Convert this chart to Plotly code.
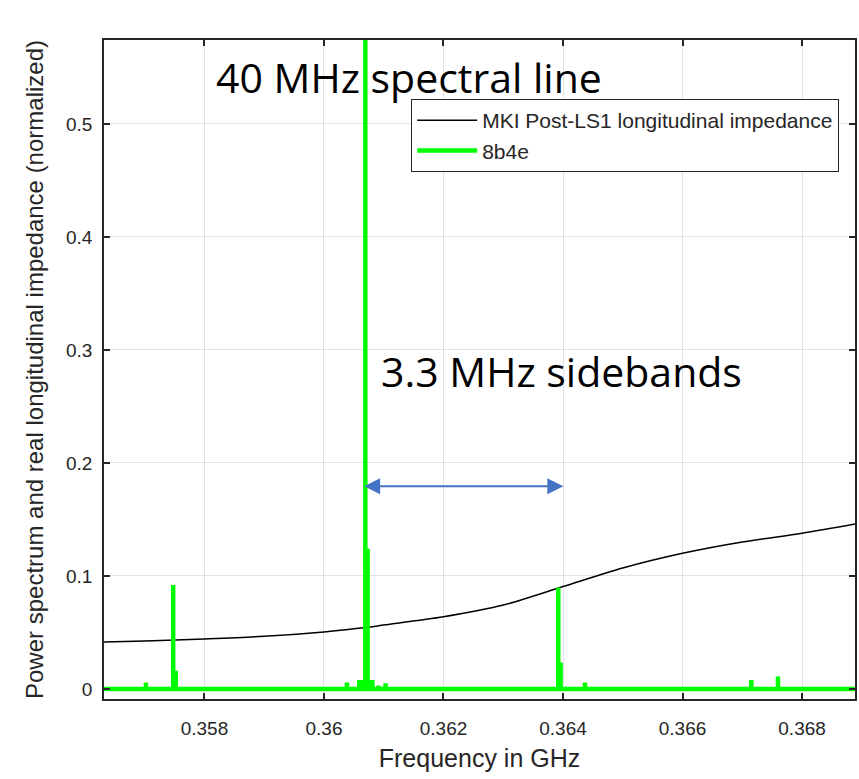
import plotly.graph_objects as go

# ---------------- data ----------------
# Real longitudinal impedance (normalized)
imp_freq = [0.35632, 0.3570, 0.3580, 0.3590, 0.3600, 0.3607, 0.3610, 0.3620,
            0.3630, 0.3640, 0.3650, 0.3660, 0.3670, 0.3680, 0.36889]
imp_val = [0.0415, 0.0425, 0.0443, 0.0466, 0.0505, 0.0543, 0.0565, 0.0638,
           0.0742, 0.0906, 0.1070, 0.1200, 0.1300, 0.1378, 0.1460]

# Power spectrum lines of the 8b4e beam (normalized)
spike_freq = [0.35702, 0.35742, 0.357477, 0.35752, 0.35756,
              0.36029, 0.360385, 0.36047, 0.36059, 0.36063, 0.360692, 0.36073,
              0.36077, 0.36081, 0.36091, 0.36103, 0.36114,
              0.363921, 0.36396, 0.364368, 0.367151, 0.367597]
spike_amp = [0.0056, 0.002, 0.092, 0.016, 0.002,
             0.002, 0.0056, 0.002, 0.008, 0.008, 0.62, 0.124,
             0.008, 0.008, 0.003, 0.005, 0.002,
             0.0897, 0.0234, 0.0056, 0.008, 0.011]

x_range = [0.356319, 0.368886]
y_range = [-0.0089, 0.5743]

x_ticks = [0.358, 0.360, 0.362, 0.364, 0.366, 0.368]
x_tick_text = ["0.358", "0.36", "0.362", "0.364", "0.366", "0.368"]
y_ticks = [0, 0.1, 0.2, 0.3, 0.4, 0.5]
y_tick_text = ["0", "0.1", "0.2", "0.3", "0.4", "0.5"]

arrow_y = 0.1793
arrow_from = 0.360647
arrow_to = 0.364005

# ---------------- build spectrum polyline ----------------
spec_x = [x_range[0]]
spec_y = [0.0]
for f, a in sorted(zip(spike_freq, spike_amp)):
    spec_x += [f, f, f]
    spec_y += [0.0, a, 0.0]
spec_x.append(x_range[1])
spec_y.append(0.0)

axis_col = "#262626"
font_main = "Liberation Sans, Arial, sans-serif"

fig = go.Figure()
fig.add_trace(go.Scatter(
    x=imp_freq, y=imp_val, mode="lines",
    line=dict(color="black", width=1.5, shape="spline", smoothing=0.8),
    name="MKI Post-LS1 longitudinal impedance"))
fig.add_trace(go.Scatter(
    x=spec_x, y=spec_y, mode="lines",
    line=dict(color="#00ff00", width=4.5),
    name="8b4e"))

fig.update_layout(
    width=859, height=779,
    margin=dict(l=104, r=2, t=40, b=80),
    paper_bgcolor="white", plot_bgcolor="white",
    font=dict(family=font_main, color=axis_col),
    showlegend=True,
    legend=dict(x=0.409, y=0.9105, xanchor="left", yanchor="top",
                bgcolor="white", bordercolor=axis_col, borderwidth=1,
                font=dict(size=21, family=font_main, color=axis_col),
                itemwidth=60, tracegroupgap=0),
)
fig.update_xaxes(
    range=x_range, tickvals=x_ticks, ticktext=x_tick_text,
    showgrid=True, gridcolor="#e2e2e2", gridwidth=1,
    showline=True, linecolor=axis_col, linewidth=1.5, mirror="allticks",
    ticks="inside", ticklen=6, tickcolor=axis_col, tickwidth=1.5,
    tickfont=dict(size=19, color=axis_col), ticklabelstandoff=11,
    zeroline=False,
    title=dict(text="Frequency in GHz", font=dict(size=25, color=axis_col), standoff=12))
fig.update_yaxes(
    range=y_range, tickvals=y_ticks, ticktext=y_tick_text,
    showgrid=True, gridcolor="#e2e2e2", gridwidth=1,
    showline=True, linecolor=axis_col, linewidth=1.5, mirror="allticks",
    ticks="inside", ticklen=6, tickcolor=axis_col, tickwidth=1.5,
    tickfont=dict(size=19, color=axis_col), ticklabelstandoff=6,
    zeroline=False,
    title=dict(text="Power spectrum and real longitudinal impedance (normalized)",
               font=dict(size=24, color=axis_col), standoff=16))

ann_font = dict(family="Open Sans, Noto Sans, sans-serif", size=41, color="black")
fig.add_annotation(x=0.1468, y=0.9432, xref="paper", yref="paper",
                   xanchor="left", yanchor="middle", showarrow=False,
                   text="40 MHz spectral line", font=ann_font)
fig.add_annotation(x=0.3661, y=0.4980, xref="paper", yref="paper",
                   xanchor="left", yanchor="middle", showarrow=False,
                   text="3.3 MHz sidebands", font=ann_font)
fig.add_annotation(x=arrow_to, y=arrow_y, ax=arrow_from, ay=arrow_y,
                   xref="x", yref="y", axref="x", ayref="y",
                   text="", showarrow=True, arrowside="end+start",
                   arrowhead=2, arrowsize=1.6, arrowwidth=2,
                   arrowcolor="#4472C4", standoff=0, startstandoff=0)

fig.write_html("out.html")
